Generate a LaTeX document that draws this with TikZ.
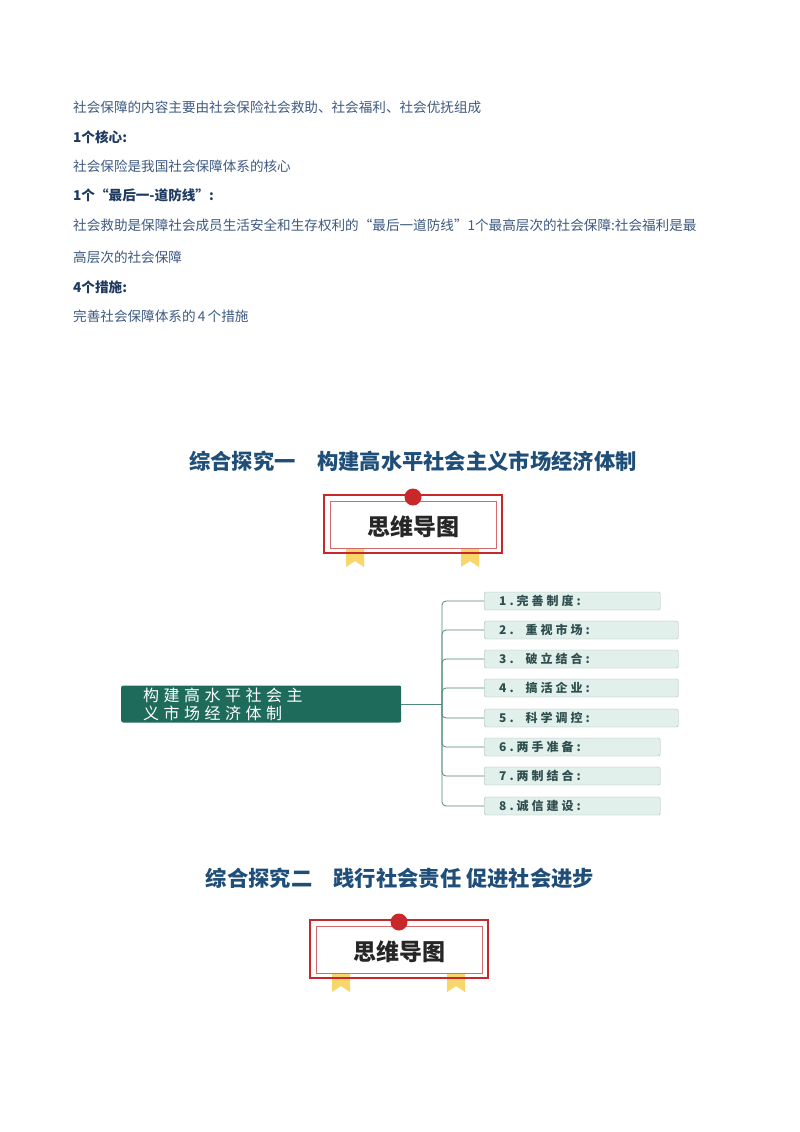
\documentclass[tikz,border=0pt]{standalone}
\usepackage{fontspec}
\newfontfamily\cjk{Noto Sans CJK SC}
\newfontfamily\cjksp{Noto Sans CJK SC}[LetterSpace=25]
\definecolor{body}{HTML}{3E5A80}
\definecolor{head}{HTML}{1F3A60}
\definecolor{ttl}{HTML}{1F4E79}
\definecolor{rootc}{HTML}{1E6B5C}
\definecolor{leaf}{HTML}{E2F0EC}
\definecolor{leafb}{HTML}{A8B8B4}
\definecolor{leaft}{HTML}{2F4F4F}
\definecolor{lnc}{HTML}{4F8A7C}
\definecolor{badr}{HTML}{C8282A}
\definecolor{ribbon}{HTML}{F9D66A}
\begin{document}
\begin{tikzpicture}[x=1pt,y=-1pt,
  bodytxt/.style={anchor=west,text=body,font=\cjk\fontsize{13.6}{15}\selectfont,inner sep=0},
  headtxt/.style={anchor=west,text=head,font=\cjk\bfseries\fontsize{13.6}{15}\selectfont,inner sep=0},
  ttltxt/.style={text=ttl,font=\cjk\bfseries\fontsize{21.3}{24}\selectfont,inner sep=0},
  leafbox/.style={draw=leafb,fill=leaf,rounded corners=1.5,minimum height=18,anchor=west,inner ysep=0,inner xsep=15,align=left,text=leaft,font=\cjksp\bfseries\fontsize{12}{13}\selectfont},
  conn/.style={draw=lnc,line width=0.8,rounded corners=4}]
\useasboundingbox (0,0) rectangle (800,1132);
\fill[white] (0,0) rectangle (800,1132);
\node[bodytxt] (t1) at (73,107) {社会保障的内容主要由社会保险社会救助、社会福利、社会优抚组成};
\node[headtxt] (t2) at (73,137) {1个核心:};
\node[bodytxt] (t3) at (73,166) {社会保险是我国社会保障体系的核心};
\node[headtxt] (t4) at (73,195) {1个“最后一-道防线”:};
\node[bodytxt] (t5) at (73,225) {社会救助是保障社会成员生活安全和生存权利的“最后一道防线”1个最高层次的社会保障:社会福利是最};
\node[bodytxt] (t6) at (73,257) {高层次的社会保障};
\node[headtxt] (t7) at (73,287) {4个措施:};
\node[bodytxt] (t8) at (73,316) {完善社会保障体系的\,4\,个措施};
\node[ttltxt] (h1) at (413,461) {综合探究一\quad 构建高水平社会主义市场经济体制};
\node[ttltxt] (h2) at (400,878) {综合探究二\quad 践行社会责任 促进社会进步};
% badges
\foreach \cx/\cy/\nm in {413/526/b1, 399/951/b2}{
  \fill[ribbon] (\cx-67,\cy+22) -- (\cx-49,\cy+22) -- (\cx-49,\cy+41) -- (\cx-58,\cy+35) -- (\cx-67,\cy+41) -- cycle;
  \fill[ribbon] (\cx+48,\cy+22) -- (\cx+66,\cy+22) -- (\cx+66,\cy+41) -- (\cx+57,\cy+35) -- (\cx+48,\cy+41) -- cycle;
  \draw[badr,line width=1.2] (\cx-89,\cy-31) rectangle (\cx+89,\cy+27);
  \draw[badr!70,line width=0.6] (\cx-83,\cy-25) rectangle (\cx+83,\cy+22);
  \fill[badr] (\cx,\cy-29) circle (8.5);
  \node[font=\cjk\bfseries\fontsize{23}{26}\selectfont,text=black!85] (\nm) at (\cx,\cy+1) {思维导图};
}
% mind map
\node[fill=rootc,rounded corners=2,minimum width=280,minimum height=37,anchor=west,inner sep=0] (root) at (121,704) {};
\node[anchor=west,text=white,font=\cjk\fontsize{16}{18}\selectfont\addfontfeature{LetterSpace=28},align=left,inner sep=0] (rtxt) at (143,704) {构建高水平社会主\\义市场经济体制};
\coordinate (j) at (442,704);
\node[leafbox,text width=146] (l1) at (484,601) {1.完善制度:};
\node[leafbox,text width=164] (l2) at (484,630) {2.\quad 重视市场:};
\node[leafbox,text width=164] (l3) at (484,659) {3.\quad 破立结合:};
\node[leafbox,text width=164] (l4) at (484,688) {4.\quad 搞活企业:};
\node[leafbox,text width=164] (l5) at (484,718) {5.\quad 科学调控:};
\node[leafbox,text width=146] (l6) at (484,747) {6.两手准备:};
\node[leafbox,text width=146] (l7) at (484,776) {7.两制结合:};
\node[leafbox,text width=146] (l8) at (484,806) {8.诚信建设:};
\draw[conn] (root.east) -- (j);
\foreach \i in {1,...,8}{ \draw[conn] (j) |- (l\i.west); }
\end{tikzpicture}
\end{document}
